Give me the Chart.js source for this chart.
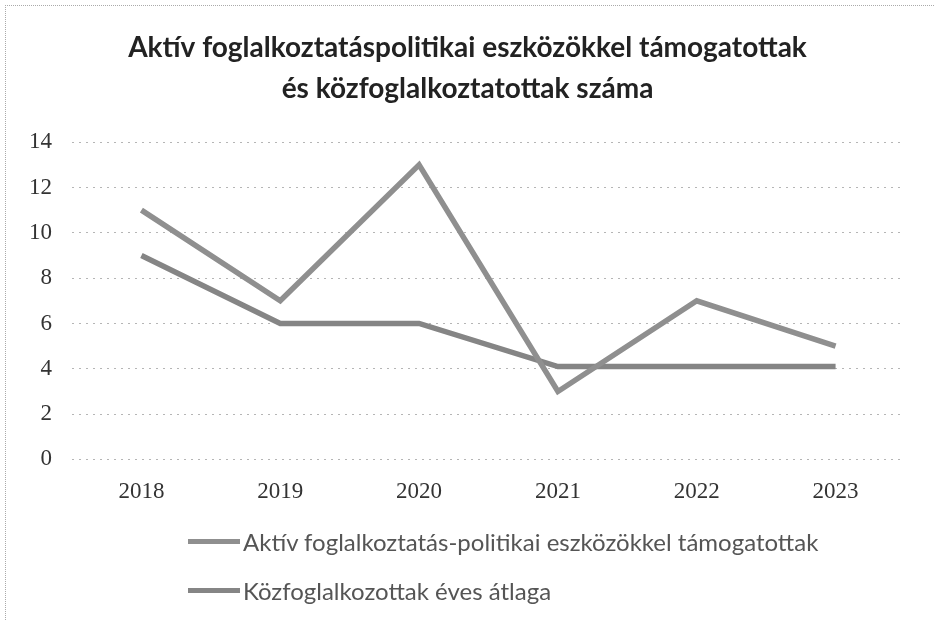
<!DOCTYPE html>
<html>
<head>
<meta charset="utf-8">
<script src="https://cdn.jsdelivr.net/npm/chart.js@4"></script>
<style>
  html, body { margin: 0; padding: 0; background: #fff; }
  #wrap { position: relative; width: 935px; height: 620px; }
  #wrap canvas { position: absolute; left: 0; top: 0; }
  #frame { position: absolute; left: 5px; top: 5px; width: 940px; height: 620px; border-left: 1px dotted #aaa; border-top: 1px dotted #aaa; pointer-events: none; }
  #legenda { position: absolute; left: 188px; top: 523px; font-family: Lato, sans-serif; font-size: 24px; color: #555; }
  #legenda .item { display: flex; align-items: center; height: 36px; margin-bottom: 13px; }
  #legenda .jel { width: 52px; height: 5px; margin-right: 3px; }
</style>
</head>
<body>
<div id="wrap">
  <canvas id="grafikon" width="935" height="620"></canvas>
  <div id="frame"></div>
  <div id="legenda"></div>
</div>
<script>
// adatok
const evek = ["2018", "2019", "2020", "2021", "2022", "2023"];
const aktivTamogatottak = [11, 7, 13, 3, 7, 5];
const kozfoglalkoztatottak = [9, 6, 6, 4.1, 4.1, 4.1];
const yTicks = [0, 2, 4, 6, 8, 10, 12, 14];

const cimSorok = ["Aktív foglalkoztatáspolitikai eszközökkel támogatottak", "és közfoglalkoztatottak száma"];
const sorozatNevek = ["Aktív foglalkoztatás-politikai eszközökkel támogatottak", "Közfoglalkozottak éves átlaga"];
const szinek = ["#8f8f8f", "#858585"];

const adatsorok = [aktivTamogatottak, kozfoglalkoztatottak].map((d, i) => ({
  label: sorozatNevek[i],
  data: d,
  borderColor: szinek[i],
  backgroundColor: szinek[i],
  borderWidth: 5.5,
  pointRadius: 0,
  tension: 0,
  fill: false,
}));

const chart = new Chart(document.getElementById("grafikon"), {
  type: "line",
  data: { labels: evek, datasets: adatsorok },
  options: {
    responsive: false,
    animation: false,
    layout: { padding: { left: 30, right: 30, top: 20, bottom: 103 } },
    plugins: {
      legend: { display: false },
      tooltip: { enabled: false },
      title: {
        display: true,
        text: cimSorok,
        color: "#222",
        font: { family: "Lato", size: 28, weight: "bold", lineHeight: 1.45 },
        padding: { top: 8, bottom: 33 },
      },
    },
    scales: {
      x: {
        offset: true,
        grid: { display: false },
        border: { display: false },
        ticks: { color: "#333", padding: 11, font: { family: "Liberation Serif", size: 23 } },
      },
      y: {
        min: 0,
        max: 14,
        afterBuildTicks: (ax) => { ax.ticks = yTicks.map((v) => ({ value: v })); },
        afterFit: (ax) => { ax.width = 42; },
        border: { display: false, dash: [2, 5] },
        grid: { color: "#b5b5b5", lineWidth: 1, tickLength: 0 },
        ticks: { color: "#333", padding: 20, font: { family: "Liberation Serif", size: 23 } },
      },
    },
  },
});

const legenda = document.getElementById("legenda");
adatsorok.forEach((ds) => {
  const sor = document.createElement("div");
  sor.className = "item";
  sor.innerHTML = '<span class="jel" style="background:' + ds.borderColor + '"></span><span>' + ds.label + "</span>";
  legenda.appendChild(sor);
});
</script>
</body>
</html>
